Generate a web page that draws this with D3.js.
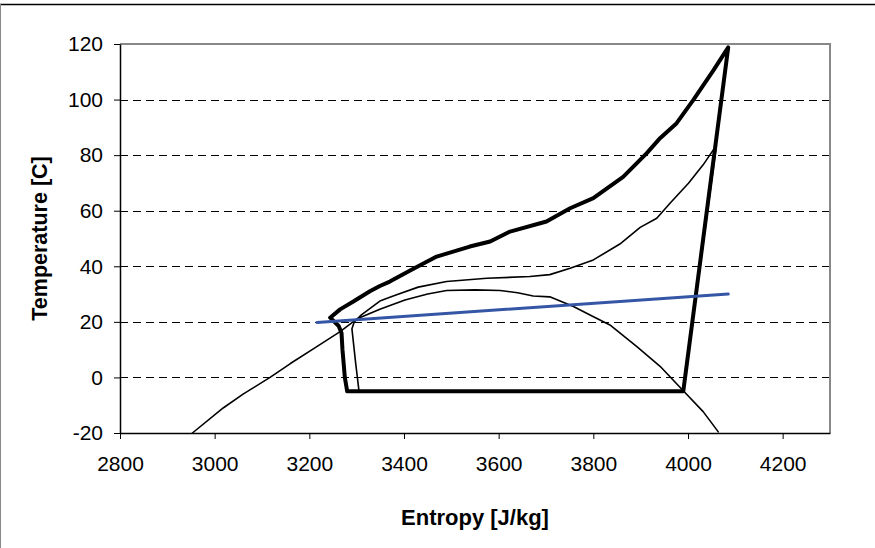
<!DOCTYPE html>
<html>
<head>
<meta charset="utf-8">
<script src="https://cdn.jsdelivr.net/npm/d3@7"></script>
<style>
  body { margin: 0; background: #fff; }
  text { font-family: "Liberation Sans", Arial, sans-serif; fill: #000; }
</style>
</head>
<body>
<svg id="chart"></svg>
<script>
// tick values
var xTicks = [2800, 3000, 3200, 3400, 3600, 3800, 4000, 4200];
var yTicks = [-20, 0, 20, 40, 60, 80, 100, 120];

// saturation dome (thin)
var domeEntropy = [2953, 3018, 3060, 3117, 3160, 3215, 3265, 3300, 3349, 3402, 3450, 3490, 3550, 3603, 3640, 3673, 3708, 3758, 3793, 3835, 3892, 3941, 3990, 4032, 4064];
var domeTemp    = [-20, -11, -6, 0, 5, 11, 16.5, 21, 24.5, 27.9, 30, 31.3, 31.5, 31.3, 30.5, 29.3, 29, 25.5, 22.5, 18.9, 11.1, 4, -4.8, -12.3, -19.6];

// cycle (thick)
var cycleEntropy = [3280, 3275, 3270, 3268, 3262, 3244, 3265, 3293, 3328, 3349, 3370, 3413, 3469, 3539, 3582, 3624, 3701, 3751, 3800, 3863, 3913, 3941, 3976, 4011, 4054, 4085, 3990, 3280];
var cycleTemp    = [-5, 0, 10, 16, 18.5, 21.5, 24.5, 27.3, 31, 32.9, 34.5, 38.5, 43.5, 47.1, 48.9, 52.5, 56.1, 60.9, 64.5, 72.2, 80.7, 86.1, 91.5, 99.8, 110.6, 118.8, -5, -5];

// second cycle (thin)
var innerEntropy = [3305, 3298, 3290, 3295, 3310, 3349, 3380, 3430, 3490, 3575, 3666, 3708, 3751, 3800, 3856, 3899, 3934, 3962, 4001, 4032, 4060, 3990, 3305];
var innerTemp    = [-5, 5, 17.5, 20, 22.5, 27.5, 29.5, 32.5, 34.5, 35.7, 36.3, 37, 39.3, 42.3, 48, 54, 57.3, 62.7, 69.9, 76.5, 83.5, -5, -5];

// blue line
var waterEntropy = [3216, 4085];
var waterTemp    = [19.8, 30];

// dimensions
var margin = { left: 120, right: 45, top: 44, bottom: 115 },
    width = 875 - margin.left - margin.right,
    height = 548 - margin.top - margin.bottom;

var svg = d3.select("#chart")
    .attr("width", 875)
    .attr("height", 548);

// outer frame
svg.append("line")
    .attr("x1", 0).attr("x2", 875).attr("y1", 4.5).attr("y2", 4.5)
    .attr("stroke", "#000").attr("stroke-width", 1.3);
svg.append("line")
    .attr("x1", 0.5).attr("x2", 0.5).attr("y1", 4).attr("y2", 548)
    .attr("stroke", "#888").attr("stroke-width", 1);

var g = svg.append("g")
    .attr("transform", "translate(" + margin.left + "," + margin.top + ")");

// scales
var x = d3.scaleLinear().domain([2800, 4300]).range([0, width]);
var y = d3.scaleLinear().domain([-20, 120]).range([height, 0]);

// gridlines
g.selectAll(".grid")
    .data(yTicks.filter(function(d) { return d > -20 && d < 120; }))
    .enter().append("line")
    .attr("class", "grid")
    .attr("x1", 0).attr("x2", width)
    .attr("y1", function(d) { return Math.round(y(d)) + 0.5; })
    .attr("y2", function(d) { return Math.round(y(d)) + 0.5; })
    .attr("stroke", "#000")
    .attr("stroke-width", 1)
    .attr("stroke-dasharray", "8,5");

// plot area border (top and right)
g.append("path")
    .attr("d", "M0," + 0 + "H" + width + "V" + height)
    .attr("fill", "none")
    .attr("stroke", "#888")
    .attr("stroke-width", 2);

// axes
var plain = function(d) { return String(d); };
var xAxis = g.append("g")
    .attr("transform", "translate(0," + height + ")")
    .call(d3.axisBottom(x).tickValues(xTicks).tickFormat(plain)
        .tickSize(6).tickSizeOuter(0).tickPadding(17));
var yAxis = g.append("g")
    .call(d3.axisLeft(y).tickValues(yTicks).tickFormat(plain)
        .tickSize(6).tickSizeOuter(0).tickPadding(11));

[xAxis, yAxis].forEach(function(a) {
    a.select(".domain").attr("stroke", "#000").attr("stroke-width", 1.5);
    a.selectAll(".tick line").attr("stroke", "#000").attr("stroke-width", 1);
    a.selectAll("text")
        .style("font-family", "'Liberation Sans', Arial, sans-serif")
        .style("font-size", "21px");
});

// axis titles
g.append("text")
    .attr("x", width / 2)
    .attr("y", height + 92)
    .attr("text-anchor", "middle")
    .style("font-weight", "bold")
    .style("font-size", "22px")
    .text("Entropy [J/kg]");
g.append("text")
    .attr("transform", "rotate(-90)")
    .attr("x", -height / 2)
    .attr("y", -73)
    .attr("text-anchor", "middle")
    .style("font-weight", "bold")
    .style("font-size", "21.5px")
    .text("Temperature [C]");

// line generator
var line = d3.line()
    .x(function(d) { return x(d[0]); })
    .y(function(d) { return y(d[1]); });

function pairs(xs, ys) {
    return xs.map(function(v, i) { return [v, ys[i]]; });
}

function drawLine(xs, ys, color, w) {
    g.append("path")
        .attr("d", line(pairs(xs, ys)))
        .attr("fill", "none")
        .attr("stroke", color)
        .attr("stroke-width", w)
        .attr("stroke-linejoin", "round")
        .attr("stroke-linecap", "round");
}

drawLine(domeEntropy, domeTemp, "#000", 1.6);
drawLine(innerEntropy, innerTemp, "#000", 1.6);
drawLine(cycleEntropy, cycleTemp, "#000", 4);
drawLine(waterEntropy, waterTemp, "#3556a5", 3);
</script>
</body>
</html>
